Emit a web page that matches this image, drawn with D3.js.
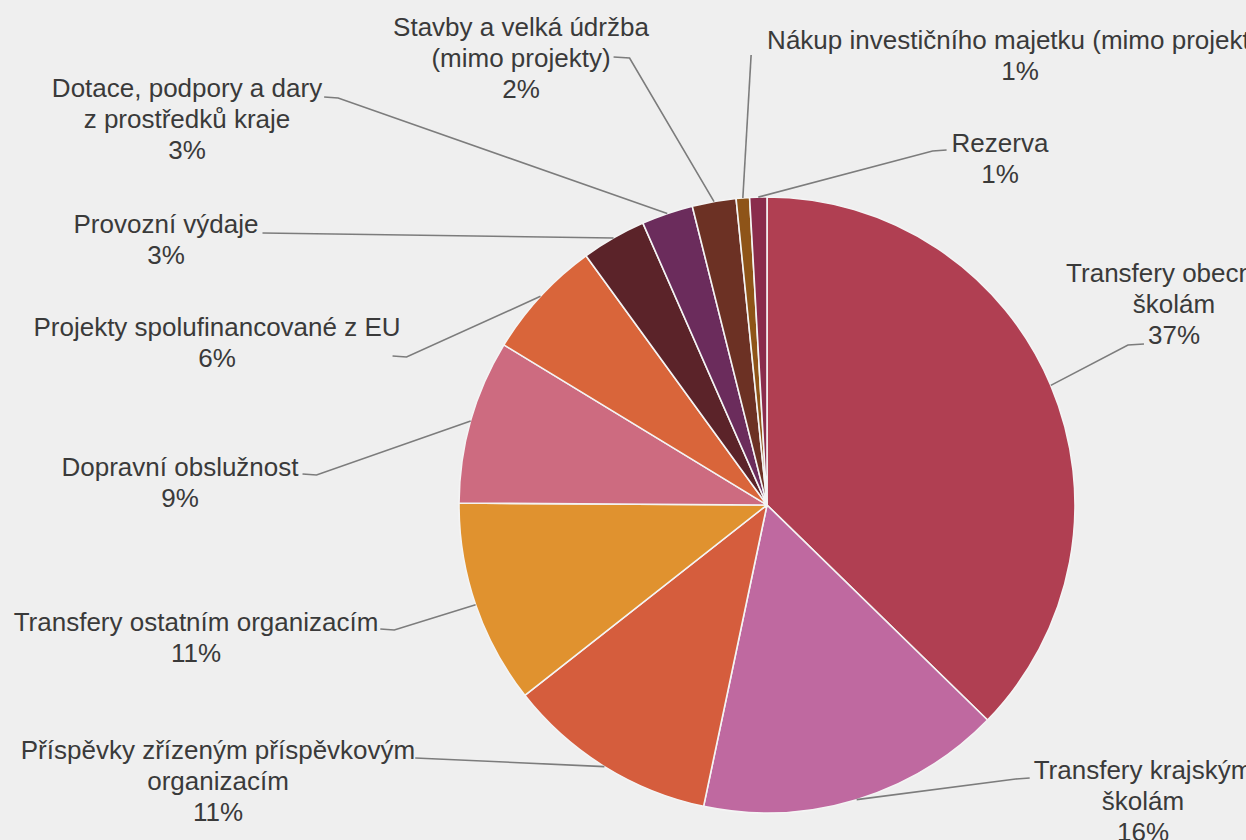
<!DOCTYPE html>
<html>
<head>
<meta charset="utf-8">
<script src="https://cdn.jsdelivr.net/npm/d3@7"></script>
<style>
    html, body { margin: 0; padding: 0; background: #efefef; overflow: hidden; }
    svg { display: block; }
    text { font-family: "Liberation Sans", Arial, sans-serif; font-size: 26px; fill: #3a3a3a; }
</style>
</head>
<body>
<svg js-sel="chart" width="1246" height="840"></svg>
<script>
// slices clockwise from 12 o'clock
const categories = [
    "Transfery obecním\nškolám",
    "Transfery krajským\nškolám",
    "Příspěvky zřízeným příspěvkovým\norganizacím",
    "Transfery ostatním organizacím",
    "Dopravní obslužnost",
    "Projekty spolufinancované z EU",
    "Provozní výdaje",
    "Dotace, podpory a dary\nz prostředků kraje",
    "Stavby a velká údržba\n(mimo projekty)",
    "Nákup investičního majetku (mimo projektů)",
    "Rezerva",
];
const values = [37.3, 16.0, 11.1, 10.7, 8.6, 6.3, 3.4, 2.7, 2.3, 0.7, 0.9];

const slice_colors = [
    "#b03f52", "#bf69a0", "#d55d3d", "#e0922f", "#cd6b80", "#d9653a",
    "#5b2329", "#6b2c5c", "#6c3124", "#8e5418", "#8a2c4c",
];

// label block: centre x, first baseline, which line the leader hangs on,
// side of that line, extra offset, length of the short flat piece
const label_layout = [
    { cx: 1174, y: 282, line: 2, side: "left", dx: -4, dy: 0, elbow: 16 },
    { cx: 1143, y: 779, line: 0, side: "left", dx: -4, dy: -1, elbow: 14 },
    { cx: 218, y: 759, line: 0, side: "right", dx: 0, dy: -1, elbow: 0 },
    { cx: 196, y: 631, line: 0, side: "right", dx: 2, dy: -2, elbow: 14 },
    { cx: 180, y: 476, line: 0, side: "right", dx: 4, dy: -2, elbow: 14 },
    { cx: 217, y: 336, line: 0, side: "right", dx: -8, dy: 20, elbow: 14 },
    { cx: 166, y: 233, line: 0, side: "right", dx: 4, dy: 0, elbow: 0 },
    { cx: 187, y: 97, line: 0, side: "right", dx: 2, dy: 0, elbow: 14 },
    { cx: 521, y: 36, line: 1, side: "right", dx: 3, dy: -10, elbow: 16 },
    { cx: 1020, y: 49, line: 0, side: "left", dx: -16, dy: 6, elbow: 0 },
    { cx: 1000, y: 152, line: 0, side: "left", dx: -5, dy: -2, elbow: 14 },
];

const line_gap = 31;

function render() {
    const svg = d3.select('[js-sel="chart"]');
    const cx = 767;
    const cy = 505;
    const radius = 308;
    const total = d3.sum(values);

    const pie = d3.pie().sort(null).value(d => d)(values);
    const arc = d3.arc().innerRadius(0).outerRadius(radius);
    const edge = d3.arc().innerRadius(radius).outerRadius(radius);

    const g = svg.append("g").attr("transform", `translate(${cx},${cy})`);

    g.selectAll("path.slice")
        .data(pie)
        .join("path")
        .attr("class", "slice")
        .attr("d", arc)
        .attr("fill", (d, i) => slice_colors[i])
        .attr("stroke", "#f4f4f4")
        .attr("stroke-width", 1.6)
        .attr("stroke-linejoin", "round")
    ;

    const labels = svg.append("g");

    pie.forEach((d, i) => {
        const layout = label_layout[i];
        const lines = categories[i].split("\n").concat([Math.round(d.value / total * 100) + "%"]);

        const text = labels.append("text").attr("text-anchor", "middle");
        const spans = lines.map((s, k) =>
            text.append("tspan")
                .attr("x", layout.cx)
                .attr("y", layout.y + k * line_gap)
                .text(s)
        );

        const w = spans[layout.line].node().getComputedTextLength();
        const sx = layout.side === "right"
            ? layout.cx + w / 2 + layout.dx
            : layout.cx - w / 2 + layout.dx;
        const sy = layout.y + layout.line * line_gap + layout.dy;
        const ex = layout.side === "right" ? sx + layout.elbow : sx - layout.elbow;

        const [px, py] = edge.centroid(d);

        labels.append("path")
            .datum([[sx, sy], [ex, sy + (layout.elbow ? 1 : 0)], [cx + px, cy + py]])
            .attr("d", d3.line())
            .attr("fill", "none")
            .attr("stroke", "#7c7c7c")
            .attr("stroke-width", 1.6)
        ;
    });
}

render();
</script>
</body>
</html>
